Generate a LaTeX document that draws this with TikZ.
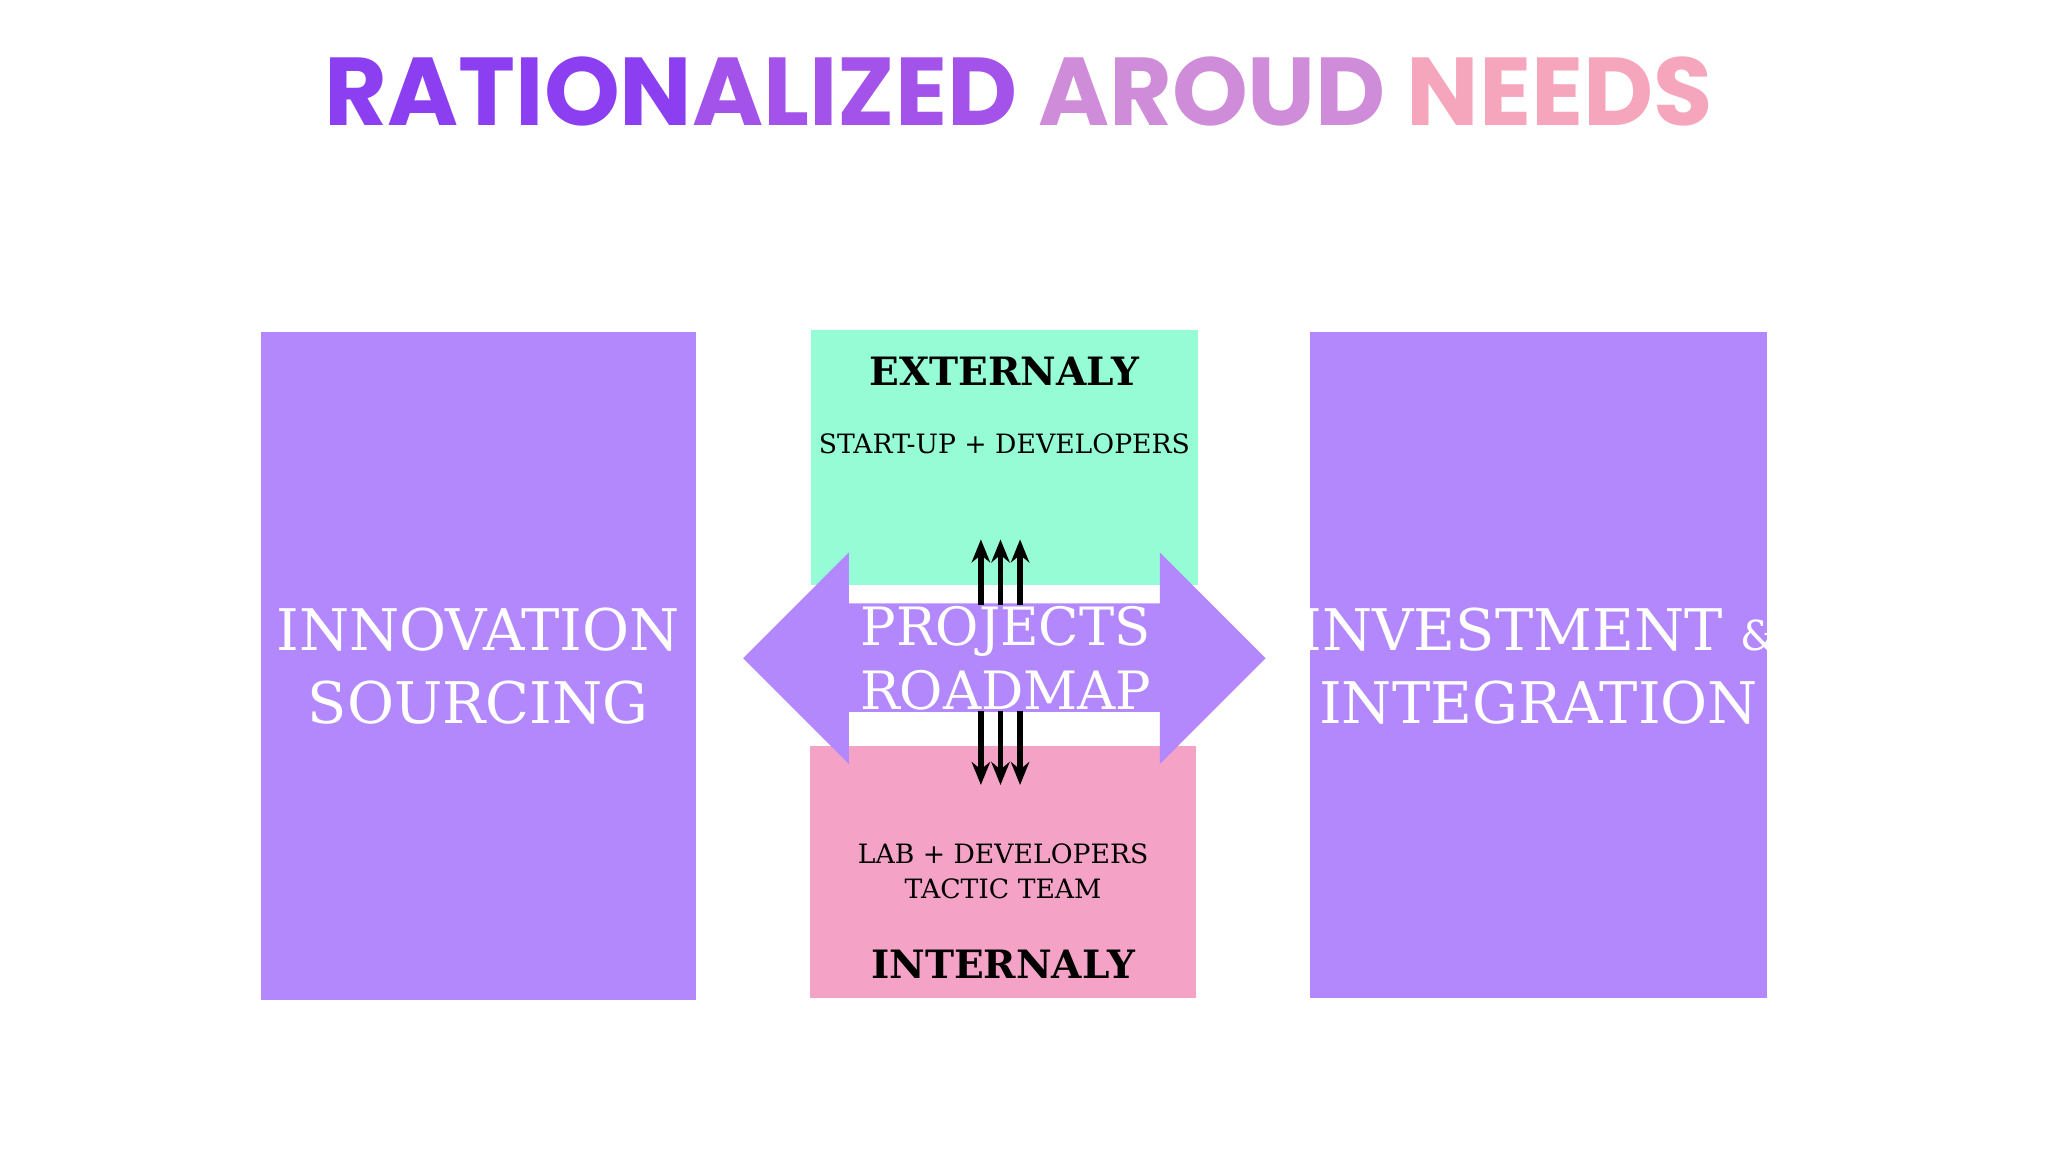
\documentclass[tikz,border=0pt]{standalone}
\usetikzlibrary{arrows.meta}
\usepackage{fontspec}
\setmainfont{DejaVu Serif}
\newfontfamily\titlefont{Poppins}
\definecolor{boxpurple}{HTML}{B388FC}
\definecolor{mint}{HTML}{96FCD6}
\definecolor{pinkbox}{HTML}{F4A3C7}
\definecolor{tA}{HTML}{8B3FF0}
\definecolor{tB}{HTML}{A352EA}
\definecolor{tC}{HTML}{CF8CD8}
\definecolor{tD}{HTML}{F6A6BC}
\begin{document}
\begin{tikzpicture}[x=0.01cm,y=-0.01cm,
  white label/.style={text=white,align=center,font=\fontsize{12.5}{16}\selectfont},
  small label/.style={text=black,align=center,font=\fontsize{5.8}{7.5}\selectfont},
  head label/.style={text=black,font=\bfseries\fontsize{8.5}{10}\selectfont},
  vert/.style={line width=1.3pt,-{Stealth[length=5pt,width=4pt]}}]
\useasboundingbox (0,0) rectangle (1568,882);
\node[font=\titlefont\bfseries\fontsize{21}{24}\selectfont] (title) at (780,70)
  {\textcolor{tA}{RATION}\textcolor{tB}{ALIZED} \textcolor{tC}{AROUD} \textcolor{tD}{NEEDS}};
\fill[boxpurple] (200,254) rectangle (533,766);
\node[white label] (innov) at (366,510) {INNOVATION\\SOURCING};
\fill[boxpurple] (1003,254) rectangle (1353,764);
\node[white label] (invest) at (1178,510) {INVESTMENT {\fontsize{9}{10}\selectfont\&}\\INTEGRATION};
\fill[mint] (621,253) rectangle (917,448);
\node[head label] (ext) at (769,284) {EXTERNALY};
\node[small label] (startup) at (769,340) {START-UP + DEVELOPERS};
\fill[pinkbox] (620,571) rectangle (916,764);
\node[small label] (lab) at (768,667) {LAB + DEVELOPERS\\TACTIC TEAM};
\node[head label] (int) at (768,738) {INTERNALY};
\fill[boxpurple] (569,504) -- (650,423) -- (650,462) -- (888,462) -- (888,423) -- (969,504)
  -- (888,585) -- (888,545) -- (650,545) -- (650,585) -- cycle;
\node[text=white,align=center,font=\fontsize{11.5}{14}\selectfont] (proj) at (770,504) {PROJECTS\\ROADMAP};
\foreach \x in {751,766,781}{
  \coordinate (u\x) at (\x,463); \coordinate (ut\x) at (\x,413);
  \coordinate (d\x) at (\x,544); \coordinate (dt\x) at (\x,601);
  \draw[vert] (u\x) -- (ut\x);
  \draw[vert] (d\x) -- (dt\x);
}
\end{tikzpicture}
\end{document}
